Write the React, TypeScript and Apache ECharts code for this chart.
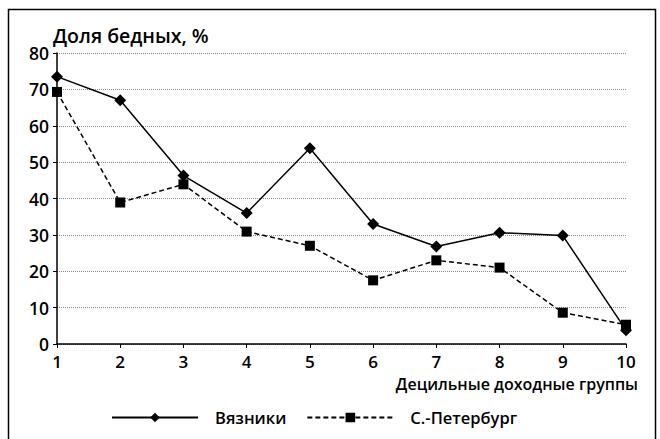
import React, { useEffect, useRef } from "react";
import * as echarts from "echarts";

const categories = ["1", "2", "3", "4", "5", "6", "7", "8", "9", "10"];
const vyazniki = [73.5, 67, 46.3, 36, 53.8, 33, 26.8, 30.6, 29.8, 3.8];
const spb = [69.3, 38.9, 43.9, 30.9, 27, 17.5, 23, 21, 8.6, 5.3];
const seriesNames = ["Вязники", "С.-Петербург"];
const yTitle = "Доля бедных, %";
const xTitle = "Децильные доходные группы";

const FONT = "'Open Sans', 'Noto Sans', sans-serif";

export default function App() {
  const ref = useRef<HTMLDivElement>(null);
  useEffect(() => {
    if (!ref.current) return;
    const chart = echarts.init(ref.current, null, { renderer: "svg" });
    chart.setOption({
      animation: false,
      backgroundColor: "#fff",
      textStyle: { fontFamily: FONT },
      title: [
        {
          text: yTitle,
          left: 53,
          top: 25,
          padding: 0,
          textStyle: { fontFamily: FONT, fontSize: 19.5, fontWeight: 600, color: "#000" },
        },
        {
          text: xTitle,
          right: 22,
          top: 376,
          padding: 0,
          textStyle: { fontFamily: FONT, fontSize: 16, fontWeight: 600, color: "#000" },
        },
      ],
      graphic: [
        {
          type: "rect",
          shape: { x: 8.5, y: 9.5, width: 647, height: 445 },
          style: { fill: "none", stroke: "#000", lineWidth: 1.5 },
          silent: true,
        },
      ],
      legend: {
        left: 111,
        top: 409,
        padding: 0,
        itemWidth: 86,
        itemHeight: 12,
        itemGap: 20,
        textStyle: { fontFamily: FONT, fontSize: 16.5, fontWeight: 600, color: "#000", padding: [0, 0, 0, 12] },
        data: seriesNames,
      },
      grid: { left: 57, right: 34, top: 53, bottom: 95, containLabel: false },
      xAxis: {
        type: "category",
        data: categories,
        boundaryGap: false,
        axisLine: { lineStyle: { color: "#000", width: 1.5 } },
        axisTick: { alignWithLabel: true, length: 4, lineStyle: { color: "#000" } },
        axisLabel: { fontFamily: FONT, fontSize: 17, fontWeight: 600, color: "#000", margin: 9 },
        splitLine: { show: false },
      },
      yAxis: {
        type: "value",
        min: 0,
        max: 80,
        interval: 10,
        axisLine: { show: true, lineStyle: { color: "#000", width: 1.5 } },
        axisTick: { show: true, length: 4, lineStyle: { color: "#000" } },
        axisLabel: { fontFamily: FONT, fontSize: 17.5, fontWeight: 600, color: "#000", margin: 8 },
        splitLine: { show: true, lineStyle: { color: "#888", type: "dotted", width: 1 } },
      },
      series: [
        {
          name: seriesNames[0],
          type: "line",
          data: vyazniki,
          symbol: "diamond",
          symbolSize: 12,
          itemStyle: { color: "#000" },
          lineStyle: { color: "#000", width: 1.5, type: "solid" },
        },
        {
          name: seriesNames[1],
          type: "line",
          data: spb,
          symbol: "rect",
          symbolSize: 10,
          itemStyle: { color: "#000" },
          lineStyle: { color: "#000", width: 1.5, type: [5, 3] },
        },
      ],
    });
    return () => chart.dispose();
  }, []);
  return (
    <div
      ref={ref}
      style={{ position: "absolute", left: 0, top: 0, width: 660, height: 439 }}
    />
  );
}
